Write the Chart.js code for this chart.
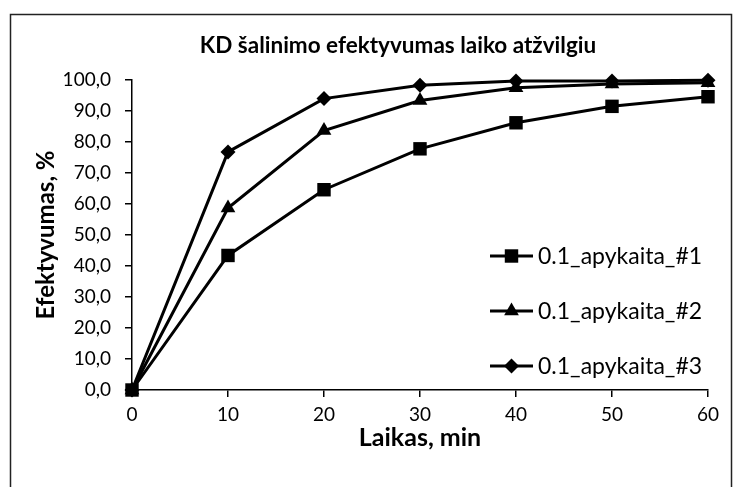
<!DOCTYPE html>
<html>
<head>
<meta charset="utf-8">
<style>
  html, body { margin: 0; padding: 0; background: #fff; }
  #wrap { width: 736px; height: 487px; }
</style>
<script src="https://cdn.jsdelivr.net/npm/chart.js@4/dist/chart.umd.min.js"></script>
</head>
<body>
<div id="wrap"><canvas id="c" width="736" height="487"></canvas></div>
<script>
// Sampling times, min
const times = [0, 10, 20, 30, 40, 50, 60];
// Removal efficiency, %
const series1 = [0, 43.4, 64.6, 77.8, 86.2, 91.5, 94.6];
const series2 = [0, 58.7, 83.7, 93.4, 97.5, 98.7, 99.1];
const series3 = [0, 76.8, 94.0, 98.3, 99.7, 99.7, 99.9];
const seriesNames = ['0.1_apykaita_#1', '0.1_apykaita_#2', '0.1_apykaita_#3'];

const chartTitle = 'KD šalinimo efektyvumas laiko atžvilgiu';
const xTitle = 'Laikas, min';
const yTitle = 'Efektyvumas, %';

const FONT = 'Lato, "Open Sans", sans-serif';

function pts(vals) { return times.map((t, i) => ({ x: t, y: vals[i] })); }

const styles = [
  { pointStyle: 'rect', pointRadius: 9.5 },
  { pointStyle: 'triangle', pointRadius: 8.5 },
  { pointStyle: 'rectRot', pointRadius: 7.5 }
];

const datasets = [series1, series2, series3].map((vals, i) => ({
  label: seriesNames[i],
  data: pts(vals),
  borderColor: '#000',
  backgroundColor: '#000',
  borderWidth: 3,
  pointBorderWidth: 0,
  pointBackgroundColor: '#000',
  pointStyle: styles[i].pointStyle,
  pointRadius: styles[i].pointRadius,
  pointHoverRadius: styles[i].pointRadius,
  tension: 0,
  clip: false
}));

// Outer frame around the whole chart, plus the heading above the plot
const framePlugin = {
  id: 'frame',
  beforeDraw(chart) {
    const ctx = chart.ctx;
    ctx.save();
    ctx.fillStyle = '#fff';
    ctx.fillRect(0, 0, chart.width, chart.height);
    ctx.strokeStyle = '#222';
    ctx.lineWidth = 1.5;
    ctx.strokeRect(10.5, 14.5, 721, 490);
    ctx.fillStyle = '#000';
    ctx.font = 'bold 22.5px ' + FONT;
    ctx.textAlign = 'center';
    ctx.textBaseline = 'middle';
    ctx.fillText(chartTitle, 398, 46);
    ctx.restore();
  }
};

// Legend drawn inside the plot, right side
const legendPlugin = {
  id: 'sideLegend',
  afterDatasetsDraw(chart) {
    const ctx = chart.ctx;
    const x0 = 490, lineLen = 43;
    const rows = [256, 311, 366];
    ctx.save();
    chart.data.datasets.forEach((ds, i) => {
      const y = rows[i];
      ctx.strokeStyle = '#000';
      ctx.lineWidth = 3;
      ctx.beginPath();
      ctx.moveTo(x0, y);
      ctx.lineTo(x0 + lineLen, y);
      ctx.stroke();
      ctx.fillStyle = '#000';
      Chart.helpers.drawPoint(ctx, {
        pointStyle: ds.pointStyle,
        radius: ds.pointRadius,
        borderWidth: 0,
        rotation: 0
      }, x0 + lineLen / 2, y);
      ctx.fillStyle = '#000';
      ctx.font = '23px ' + FONT;
      ctx.textBaseline = 'middle';
      ctx.textAlign = 'left';
      ctx.fillText(ds.label, x0 + lineLen + 5, y + 1);
    });
    ctx.restore();
  }
};

new Chart(document.getElementById('c'), {
  type: 'line',
  data: { datasets },
  plugins: [framePlugin, legendPlugin],
  options: {
    responsive: false,
    animation: false,
    devicePixelRatio: 1,
    layout: { padding: { left: 0, right: 28, top: 80, bottom: 0 } },
    plugins: {
      legend: { display: false },
      tooltip: { enabled: false },
      title: { display: false }
    },
    scales: {
      x: {
        type: 'linear',
        min: 0,
        max: 60,
        ticks: {
          stepSize: 10,
          color: '#000',
          font: { family: FONT, size: 19 },
          padding: 6,
          maxRotation: 0
        },
        grid: { drawOnChartArea: false, drawTicks: true, tickLength: 7, color: '#000', lineWidth: 1.5 },
        border: { color: '#000', width: 1.5 },
        title: {
          display: true,
          text: xTitle,
          color: '#000',
          font: { family: FONT, size: 25, weight: 'bold', lineHeight: 1.2 },
          padding: { top: 0, bottom: 34 }
        },
        afterFit(scale) { scale.height = 97; }
      },
      y: {
        type: 'linear',
        min: 0,
        max: 100,
        ticks: {
          stepSize: 10,
          color: '#000',
          font: { family: FONT, size: 19 },
          padding: 14,
          callback: v => v.toFixed(1).replace('.', ',')
        },
        grid: { drawOnChartArea: false, drawTicks: true, tickLength: 7, color: '#000', lineWidth: 1.5 },
        border: { color: '#000', width: 1.5 },
        title: {
          display: true,
          text: yTitle,
          color: '#000',
          font: { family: FONT, size: 24, weight: 'bold', lineHeight: 1.2 },
          padding: { top: 32, bottom: 0 }
        },
        afterFit(scale) { scale.width = 132; }
      }
    }
  }
});
</script>
</body>
</html>
